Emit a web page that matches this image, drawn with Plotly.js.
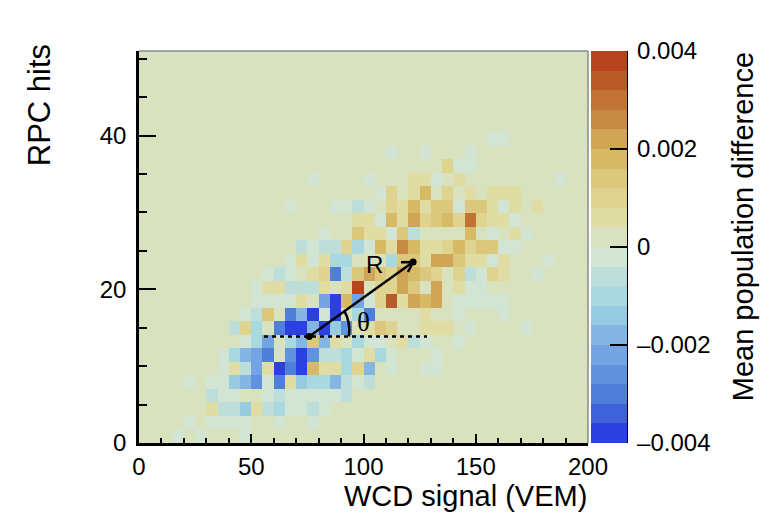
<!DOCTYPE html>
<html>
<head>
<meta charset="utf-8">
<script src="https://cdn.plot.ly/plotly-3.0.1.min.js"></script>
<style>body { margin: 0; background: #fff; }</style>
</head>
<body>
<div id="myDiv" style="width:773px;height:522px;"></div>
<script>
// mean population difference per cell, in units of 1e-4, bottom row first
// columns are 5 VEM wide, read off the picture colour by colour
let row00 = [1,1,1,-2,1,-2,1,1,1,-2, 1,1,1,1,1,1,1,1,1,1, 1,1,1,1,1,1,1,1,1,1, 1,1,1,1,1,1,1,1,1,1];
let row01 = [1,1,1,1,-2,1,-2,-2,-2,-2, 1,1,-2,1,1,-2,1,1,1,1, 1,1,1,1,1,1,1,1,1,1, 1,1,1,1,1,1,1,1,1,1];
let row02 = [1,1,1,1,1,1,6,-6,-6,-14, 6,-6,-10,-2,-2,-6,-2,1,1,1, 1,1,1,1,1,1,1,1,1,1, 1,1,1,1,1,1,1,1,1,1];
let row03 = [1,1,1,1,1,1,-6,-2,-2,1, 1,-2,-6,-2,-2,-2,-2,-2,-6,1, 1,1,1,1,1,1,1,1,1,1, 1,1,1,1,1,1,1,1,1,1];
let row04 = [1,1,1,1,-2,1,-2,-2,-14,-18, -26,-2,-30,6,-14,-10,-10,-18,-6,-2, -6,1,1,1,1,1,1,1,1,1, 1,1,1,1,1,1,1,1,1,1];
let row05 = [1,1,1,1,1,1,1,-2,6,-6, -22,6,-38,-30,-38,18,6,6,-10,10, -18,1,-2,1,1,-2,-2,1,1,1, 1,1,1,1,1,1,1,1,1,1];
let row06 = [1,1,1,1,1,1,1,-2,-10,-18, -22,-30,1,-26,-38,-26,-6,-6,-10,-2, 6,-10,-2,1,1,1,-2,1,1,1, 1,1,1,1,1,1,1,1,1,1];
let row07 = [1,1,1,1,1,1,1,1,1,-2, -10,-22,1,-10,-18,14,-18,6,1,-10, -2,-2,1,6,-6,-2,1,1,-2,1, 1,1,1,1,1,1,1,1,1,1];
let row08 = [1,1,1,1,1,1,1,1,-6,10, -10,1,-30,-38,-38,-18,-38,-14,-26,1, 6,14,10,1,1,6,6,6,1,-2, 1,1,1,1,-2,1,1,1,1,1];
let row09 = [1,1,1,1,1,1,1,1,1,-2, -6,14,1,-30,-18,-38,-2,-38,1,-10, -30,1,1,1,1,6,1,1,-2,1, 1,1,-2,1,1,1,1,1,1,1];
let row10 = [1,1,1,1,1,1,1,1,1,1, -2,-2,-2,-2,6,1,-22,-38,18,-22, -2,10,34,6,22,18,22,1,-2,-2, -2,-2,-2,1,1,1,1,1,1,1];
let row11 = [1,1,1,1,1,1,1,1,1,1, -2,6,6,-6,-6,-6,6,1,6,38, 1,10,10,22,14,1,22,1,6,-2, -2,1,1,1,1,1,1,1,1,1];
let row12 = [1,1,1,1,1,1,1,1,1,1, 1,-2,-6,-2,1,6,10,-30,-6,14, 22,14,10,22,18,14,10,1,10,-6, -2,10,6,1,1,-2,1,1,1,1];
let row13 = [1,1,1,1,1,1,1,1,1,1, 1,1,1,-2,6,-2,6,-10,-10,1, 1,1,-10,14,14,6,22,22,14,6, 6,-2,6,1,1,1,-2,1,1,1];
let row14 = [1,1,1,1,1,1,1,1,1,1, 1,1,1,1,-6,-2,-6,-6,10,-10, -2,18,6,26,18,6,6,10,18,10, 14,14,-2,-2,1,1,1,1,1,1];
let row15 = [1,1,1,1,1,1,1,1,1,1, 1,1,1,1,1,1,-2,1,1,14, 6,6,-2,14,-6,1,1,1,1,18, 1,-2,1,6,-2,1,1,1,1,1];
let row16 = [1,1,1,1,1,1,1,1,1,1, 1,1,1,1,1,1,1,1,1,6, 6,-2,18,6,22,10,14,18,10,30, 10,6,6,-2,1,1,1,1,1,1];
let row17 = [1,1,1,1,1,1,1,1,1,1, 1,1,1,-2,1,1,1,-2,-2,-6, -2,1,10,6,18,6,14,14,-2,14, 14,6,-2,6,1,6,1,1,1,1];
let row18 = [1,1,1,1,1,1,1,1,1,1, 1,1,1,1,1,1,1,1,1,1, 1,-2,10,1,6,18,1,10,1,6, 1,6,6,6,1,1,1,1,1,1];
let row19 = [1,1,1,1,1,1,1,1,1,1, 1,1,1,1,1,-2,1,1,1,1, -2,1,1,1,6,6,-2,1,6,1, 1,1,1,1,1,1,1,-2,1,1];
let row20 = [1,1,1,1,1,1,1,1,1,1, 1,1,1,1,1,1,1,1,1,1, 1,1,1,1,1,1,1,10,-2,-2, 1,1,1,1,1,1,1,1,1,1];
let row21 = [1,1,1,1,1,1,1,1,1,1, 1,1,1,1,1,1,1,1,1,1, 1,1,-2,1,1,-2,1,1,1,-2, 1,1,1,1,1,1,1,1,1,1];
let row22 = [1,1,1,1,1,1,1,1,1,1, 1,1,1,1,1,1,1,1,1,1, 1,1,1,1,1,1,1,1,1,1, 1,-2,-2,1,1,1,1,1,1,1];
let emptyRow = [1,1,1,1,1,1,1,1,1,1, 1,1,1,1,1,1,1,1,1,1, 1,1,1,1,1,1,1,1,1,1, 1,1,1,1,1,1,1,1,1,1];

let rows = [row00, row01, row02, row03, row04, row05, row06, row07, row08, row09,
  row10, row11, row12, row13, row14, row15, row16, row17, row18, row19,
  row20, row21, row22, emptyRow, emptyRow, emptyRow, emptyRow, emptyRow, emptyRow];

// palette, 20 flat levels from -0.004 to 0.004
let levelColors = [
  "#2c3fe0", "#3f62da", "#4f7fd9", "#6192dd", "#74a4e3",
  "#85b5e2", "#97cce0", "#a9d8de", "#bedfd9", "#d2e5d5",
  "#d9e2bf", "#dfdca4", "#dfd48f", "#dcc87c", "#d6ba66",
  "#d0a555", "#c78a45", "#c27234", "#ba5a28", "#b8441f"
];

let cbTickVals = [-0.004, -0.002, 0, 0.002, 0.004];
let cbTickText = ["\u2009\u20130.004", "\u2009\u20130.002", "\u20090", "\u20090.002", "\u20090.004"];

let binWidth = 5;
let yMax = 51;
let binHeight = yMax / 29;

// R and theta overlay
let pointA = [75.8, 13.85];
let pointB = [122.1, 23.55];
let dottedX = [55.7, 128.3];

function hardColorscale(colors) {
  let scale = [];
  colors.forEach((color, i) => {
    scale.push([i / colors.length, color]);
    scale.push([(i + 1) / colors.length, color]);
  });
  return scale;
}

let fontName = "Liberation Sans, Arial, sans-serif";

let heat = {
  type: "heatmap",
  z: rows.map(row => row.map(v => v * 1e-4)),
  x0: binWidth / 2,
  dx: binWidth,
  y0: binHeight / 2,
  dy: binHeight,
  zmin: -0.004,
  zmax: 0.004,
  colorscale: hardColorscale(levelColors),
  hoverinfo: "skip",
  colorbar: {
    thickness: 36,
    thicknessmode: "pixels",
    len: 1,
    lenmode: "fraction",
    x: 1.0067,
    xanchor: "left",
    y: 0,
    yanchor: "bottom",
    xpad: 0,
    ypad: 0,
    outlinewidth: 0,
    ticks: "inside",
    ticklen: 17,
    tickwidth: 2,
    tickcolor: "#000",
    tickvals: cbTickVals,
    ticktext: cbTickText,
    tickfont: { size: 24, color: "#000", family: fontName }
  }
};

let dots = {
  type: "scatter",
  mode: "markers",
  x: [pointA[0], pointB[0]],
  y: [pointA[1], pointB[1]],
  marker: { color: "#000", size: 7 },
  hoverinfo: "skip",
  showlegend: false
};

let layout = {
  width: 773,
  height: 522,
  margin: { l: 139, r: 185, t: 51, b: 79 },
  paper_bgcolor: "#fff",
  plot_bgcolor: "#d9e2bf",
  font: { family: fontName, color: "#000" },
  showlegend: false,
  xaxis: {
    range: [0, 200],
    dtick: 50,
    ticks: "inside",
    ticklen: 9,
    tickwidth: 2,
    tickcolor: "#000",
    showline: true,
    linewidth: 2.5,
    linecolor: "#000",
    showgrid: false,
    zeroline: false,
    tickfont: { size: 24 },
    minor: { dtick: 10, ticks: "inside", ticklen: 5, tickwidth: 2, tickcolor: "#000", showgrid: false }
  },
  yaxis: {
    range: [0, yMax],
    dtick: 20,
    ticks: "inside",
    ticklen: 17,
    tickwidth: 2,
    tickcolor: "#000",
    showline: true,
    linewidth: 2.5,
    linecolor: "#000",
    showgrid: false,
    zeroline: false,
    ticklabelstandoff: 5,
    tickfont: { size: 24 },
    minor: { dtick: 5, ticks: "inside", ticklen: 8, tickwidth: 2, tickcolor: "#000", showgrid: false }
  },
  shapes: [
    // grey top and right frame
    { type: "line", xref: "paper", yref: "paper", x0: 0, x1: 1, y0: 1, y1: 1, line: { color: "#8a8a8a", width: 1.5 } },
    { type: "line", xref: "paper", yref: "paper", x0: 1, x1: 1, y0: 0, y1: 1, line: { color: "#8a8a8a", width: 1.5 } },
    // black line on the right of the colour bar
    { type: "line", xref: "paper", yref: "paper", x0: 1.0869, x1: 1.0869, y0: 0, y1: 1, line: { color: "#000", width: 2 } },
    // dotted base line
    { type: "line", x0: dottedX[0], x1: dottedX[1], y0: pointA[1], y1: pointA[1], line: { color: "#000", width: 2.5, dash: "4px,4px" } },
    // R
    { type: "line", x0: pointA[0], x1: pointB[0], y0: pointA[1], y1: pointB[1], line: { color: "#000", width: 2.5 } },
    { type: "path", path: "M 116.7,23.5 L 122.1,23.55 L 119.8,22.25", line: { color: "#000", width: 2.5 } },
    // theta arc
    { type: "path", path: "M 93.5,13.85 Q 94.4,15.7 91.3,17.3", line: { color: "#000", width: 2.5 } }
  ],
  annotations: [
    { text: "R", x: 104.7, y: 23.16, showarrow: false, font: { size: 24 } },
    { text: "\u03b8", x: 99.8, y: 15.7, showarrow: false, font: { size: 27, family: "Liberation Serif, serif" } },
    { text: "WCD signal (VEM)", xref: "paper", yref: "paper", x: 1.003, y: -0.089, xanchor: "right", yanchor: "top", showarrow: false, font: { size: 29 } },
    { text: "RPC hits", xref: "paper", yref: "paper", x: -0.22, y: 1.023, xanchor: "center", yanchor: "top", textangle: -90, showarrow: false, font: { size: 31 } },
    { text: "Mean population difference", xref: "paper", yref: "paper", x: 1.345, y: 1.003, xanchor: "center", yanchor: "top", textangle: -90, showarrow: false, font: { size: 29 } }
  ]
};

Plotly.newPlot("myDiv", [heat, dots], layout, { displayModeBar: false, responsive: false });
</script>
</body>
</html>
